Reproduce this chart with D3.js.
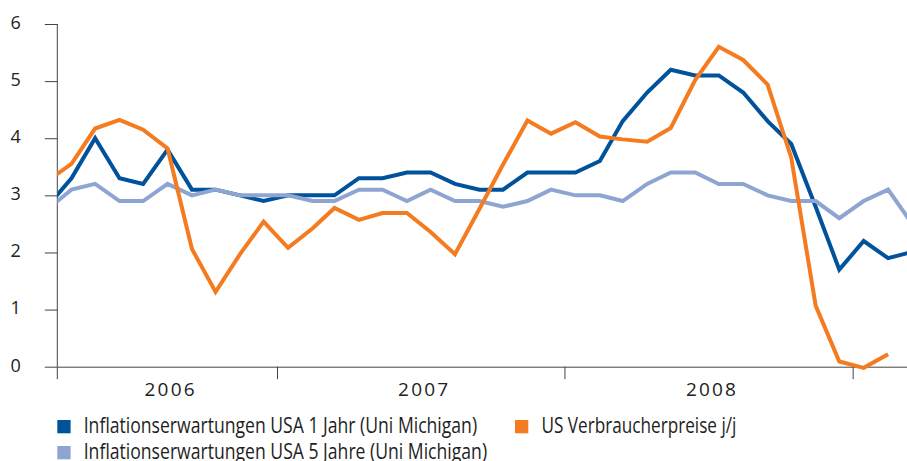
<!DOCTYPE html>
<html>
<head>
<meta charset="utf-8">
<script src="https://cdn.jsdelivr.net/npm/d3@7"></script>
<style>
  html, body { margin: 0; padding: 0; background: #fff; }
  svg { display: block; }
</style>
</head>
<body>
<div class="chart"></div>
<script>
const width = 907;
const height = 461;

// monthly observations, March 2006 to March 2009
const months = [
  '2006-03', '2006-04', '2006-05', '2006-06', '2006-07', '2006-08', '2006-09', '2006-10', '2006-11', '2006-12',
  '2007-01', '2007-02', '2007-03', '2007-04', '2007-05', '2007-06', '2007-07', '2007-08', '2007-09', '2007-10', '2007-11', '2007-12',
  '2008-01', '2008-02', '2008-03', '2008-04', '2008-05', '2008-06', '2008-07', '2008-08', '2008-09', '2008-10', '2008-11', '2008-12',
  '2009-01', '2009-02', '2009-03'
];

const expect1y = [
  2.8, 3.3, 4.0, 3.3, 3.2, 3.8, 3.1, 3.1, 3.0, 2.9,
  3.0, 3.0, 3.0, 3.3, 3.3, 3.4, 3.4, 3.2, 3.1, 3.1, 3.4, 3.4,
  3.4, 3.6, 4.3, 4.8, 5.2, 5.1, 5.1, 4.8, 4.3, 3.9, 2.8, 1.7,
  2.2, 1.9, 2.0
];

const expect5y = [
  2.75, 3.1, 3.2, 2.9, 2.9, 3.2, 3.0, 3.1, 3.0, 3.0,
  3.0, 2.9, 2.9, 3.1, 3.1, 2.9, 3.1, 2.9, 2.9, 2.8, 2.9, 3.1,
  3.0, 3.0, 2.9, 3.2, 3.4, 3.4, 3.2, 3.2, 3.0, 2.9, 2.9, 2.6,
  2.9, 3.1, 2.55
];

const cpi = [
  3.25, 3.55, 4.17, 4.32, 4.15, 3.82, 2.06, 1.31, 1.97, 2.54,
  2.08, 2.42, 2.78, 2.57, 2.69, 2.69, 2.36, 1.97, 2.76, 3.54, 4.31, 4.08,
  4.28, 4.03, 3.98, 3.94, 4.18, 5.02, 5.60, 5.37, 4.94, 3.66, 1.07, 0.09,
  -0.02, 0.22
];

const yTicks = [0, 1, 2, 3, 4, 5, 6];
const yearLabels = ['2006', '2007', '2008'];

const seriesNames = [
  'Inflationserwartungen USA 1 Jahr (Uni Michigan)',
  'Inflationserwartungen USA 5 Jahre (Uni Michigan)',
  'US Verbraucherpreise j/j'
];
const colors = ['#00529b', '#8fa5d1', '#f47b20'];

const parseMonth = d3.timeParse('%Y-%m');
const dates = months.map((m) => d3.timeDay.offset(parseMonth(m), 14));

const svg = d3.select('.chart')
  .append('svg')
  .attr('width', width)
  .attr('height', height);

svg.append('rect')
  .attr('width', width)
  .attr('height', height)
  .attr('fill', '#fff');

// scales
const xScale = d3.scaleTime()
  .domain([new Date(2006, 2, 28), new Date(2009, 2, 11)])
  .range([57.3, 907]);

const yScale = d3.scaleLinear()
  .domain([0, 6])
  .range([366.7, 24]);

const axisColor = '#444';
const tickLen = 12.5;

// y axis
const yAxis = d3.axisLeft(yScale)
  .tickValues(yTicks)
  .tickSize(tickLen)
  .tickPadding(24)
  .tickFormat(d3.format('d'));

const yG = svg.append('g')
  .attr('transform', `translate(${xScale.range()[0]}, 0)`)
  .call(yAxis);
yG.select('.domain').remove();
yG.selectAll('line').attr('stroke', axisColor);
yG.selectAll('text')
  .attr('dy', '0.24em')
  .style('font-family', '"Open Sans", sans-serif')
  .style('font-size', '18px')
  .attr('fill', '#222');

// x axis: year boundaries
const yearStarts = [new Date(2007, 0, 1), new Date(2008, 0, 1), new Date(2009, 0, 1)];
const xAxis = d3.axisBottom(xScale)
  .tickValues(yearStarts)
  .tickSize(tickLen)
  .tickSizeOuter(0)
  .tickFormat('');

const xG = svg.append('g')
  .attr('transform', `translate(0, ${yScale(0)})`)
  .call(xAxis);
xG.select('.domain').attr('stroke', axisColor);
xG.selectAll('line').attr('stroke', axisColor);

// vertical axis line, running down past the zero line
svg.append('line')
  .attr('x1', xScale.range()[0])
  .attr('x2', xScale.range()[0])
  .attr('y1', yScale(6))
  .attr('y2', yScale(0) + tickLen)
  .attr('stroke', axisColor);

// year labels centred between boundaries
const bounds = [xScale.range()[0], ...yearStarts.map((d) => xScale(d))];
svg.selectAll('.year')
  .data(yearLabels)
  .enter()
  .append('text')
  .attr('class', 'year')
  .attr('x', (_d, i) => (bounds[i] + bounds[i + 1]) / 2 + 3.5)
  .attr('y', 395.7)
  .attr('text-anchor', 'middle')
  .style('font-family', '"Open Sans", sans-serif')
  .style('font-size', '19px')
  .style('letter-spacing', '2.2px')
  .attr('fill', '#222')
  .text((d) => d);

// lines
svg.append('clipPath')
  .attr('id', 'plot-clip')
  .append('rect')
  .attr('x', xScale.range()[0])
  .attr('y', 0)
  .attr('width', xScale.range()[1] - xScale.range()[0])
  .attr('height', height);

const line = d3.line()
  .x((d) => xScale(d.date))
  .y((d) => yScale(d.value));

[expect1y, expect5y, cpi].forEach((values, i) => {
  const points = values.map((v, j) => ({ date: dates[j], value: v }));
  svg.append('path')
    .datum(points)
    .attr('clip-path', 'url(#plot-clip)')
    .attr('d', line)
    .attr('fill', 'none')
    .attr('stroke', colors[i])
    .attr('stroke-width', 4)
    .attr('stroke-linejoin', 'miter');
});

// legend
const legendItems = [
  { x: 57.3, y: 420, len: 393.4 },
  { x: 57.3, y: 446, len: 403.4 },
  { x: 515, y: 420, len: 195 }
];

const legend = svg.selectAll('.legend')
  .data(legendItems)
  .enter()
  .append('g')
  .attr('class', 'legend')
  .attr('transform', (d) => `translate(${d.x}, ${d.y})`);

legend.append('rect')
  .attr('width', 13.3)
  .attr('height', 13.3)
  .attr('fill', (_d, i) => colors[i]);

legend.append('text')
  .attr('x', 26.4)
  .attr('y', 13)
  .attr('textLength', (d) => d.len)
  .attr('lengthAdjust', 'spacingAndGlyphs')
  .style('font-family', '"Liberation Sans Narrow", "Open Sans", sans-serif')
  .style('font-size', '21px')
  .attr('fill', '#1e1e1e')
  .text((_d, i) => seriesNames[i]);
</script>
</body>
</html>
